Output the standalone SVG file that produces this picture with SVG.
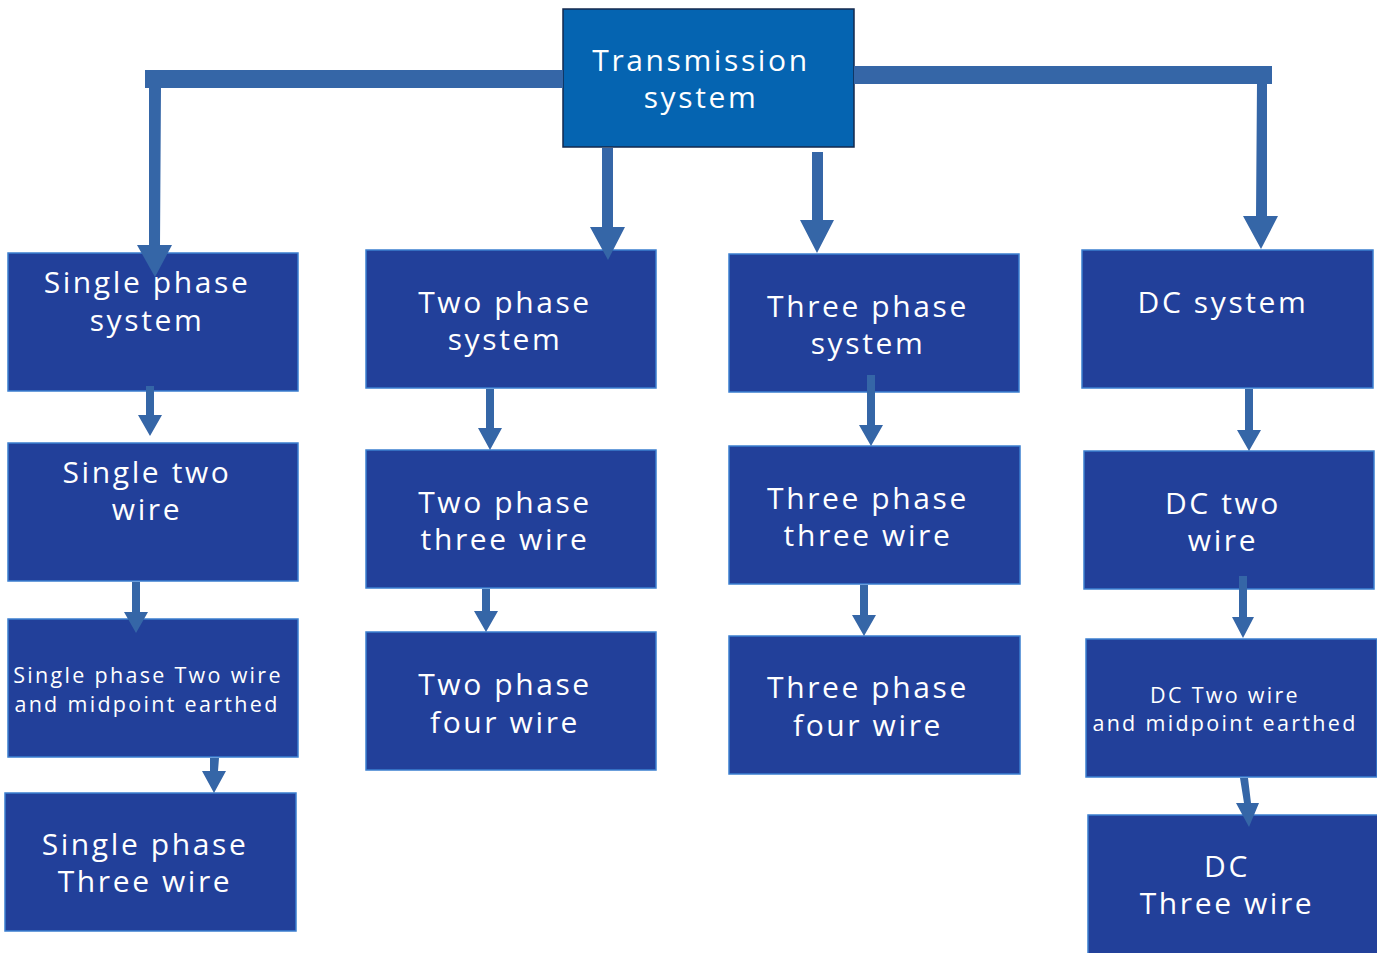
<svg xmlns="http://www.w3.org/2000/svg" width="1377" height="953" viewBox="0 0 1377 953">
<style>
.node rect{fill:#22409a;stroke:#3b7fd0;stroke-width:1.5}
#n0 rect{fill:#0564b1;stroke:#13294d;stroke-width:1.5}
.node text{fill:#ffffff;font-family:"Open Sans","Noto Sans","DejaVu Sans",sans-serif;font-size:30px;letter-spacing:2.6px;text-anchor:middle}
.node text.s{font-size:21.5px;letter-spacing:2.3px}
.conn{fill:#3566a7}
</style>
<rect width="1377" height="953" fill="#ffffff"/>
<g id="n0" class="node"><rect x="563" y="9" width="291" height="138"/><text x="701" y="71">Transmission</text><text x="701" y="108">system</text></g>
<g id="n1" class="node"><rect x="8" y="253" width="290" height="138"/><text x="147" y="293">Single phase</text><text x="147" y="331">system</text></g>
<g id="n2" class="node"><rect x="366" y="250" width="290" height="138"/><text x="505" y="313">Two phase</text><text x="505" y="350">system</text></g>
<g id="n3" class="node"><rect x="729" y="254" width="290" height="138"/><text x="868" y="317">Three phase</text><text x="868" y="354">system</text></g>
<g id="n4" class="node"><rect x="1082" y="250" width="291" height="138"/><text x="1223" y="313">DC system</text></g>
<g id="n5" class="node"><rect x="8" y="443" width="290" height="138"/><text x="147" y="483">Single two</text><text x="147" y="520">wire</text></g>
<g id="n6" class="node"><rect x="366" y="450" width="290" height="138"/><text x="505" y="513">Two phase</text><text x="505" y="550">three wire</text></g>
<g id="n7" class="node"><rect x="729" y="446" width="291" height="138"/><text x="868" y="509">Three phase</text><text x="868" y="546">three wire</text></g>
<g id="n8" class="node"><rect x="1084" y="451" width="290" height="138"/><text x="1223" y="514">DC two</text><text x="1223" y="551">wire</text></g>
<g id="n9" class="node"><rect x="8" y="619" width="290" height="138"/><text class="s" x="148" y="683">Single phase Two wire</text><text class="s" x="147" y="712">and midpoint earthed</text></g>
<g id="n10" class="node"><rect x="366" y="632" width="290" height="138"/><text x="505" y="695">Two phase</text><text x="505" y="733">four wire</text></g>
<g id="n11" class="node"><rect x="729" y="636" width="291" height="138"/><text x="868" y="698">Three phase</text><text x="868" y="736">four wire</text></g>
<g id="n12" class="node"><rect x="1086" y="639" width="291" height="138"/><text class="s" x="1225" y="703">DC Two wire</text><text class="s" x="1225" y="731">and midpoint earthed</text></g>
<g id="n13" class="node"><rect x="5" y="793" width="291" height="138"/><text x="145" y="855">Single phase</text><text x="145" y="892">Three wire</text></g>
<g id="n14" class="node"><rect x="1088" y="815" width="290" height="140"/><text x="1227" y="877">DC</text><text x="1227" y="914">Three wire</text></g>
<g id="connectors" class="conn">
<rect x="145" y="70" width="418" height="18"/>
<rect x="854" y="66" width="418" height="18"/>
<polygon points="149,86 161,86 160,245 172,245 155,277 137,245 149,245"/>
<polygon points="1257,82 1267,82 1267,216 1278,216 1261,249 1243,216 1256,216"/>
<polygon points="602,148 613,148 613,227 625,227 608,260 590,227 602,227"/>
<polygon points="812,152 823,152 823,220 834,220 817,253 800,220 812,220"/>
<polygon points="146,386 154,386 154,415 162,415 150,436 138,415 146,415"/>
<polygon points="132,582 140,582 140,612 148,612 136,633 124,612 132,612"/>
<polygon points="210,758 219,758 218,771 226,771 214,793 202,771 210,771"/>
<polygon points="486,389 494,389 494,428 502,428 490,450 478,428 486,428"/>
<polygon points="482,589 490,589 490,611 498,611 486,632 474,611 482,611"/>
<polygon points="867,375 875,375 875,425 883,425 871,446 859,425 867,425"/>
<polygon points="860,585 868,585 868,615 876,615 864,636 852,615 860,615"/>
<polygon points="1245,389 1253,389 1253,430 1261,430 1249,451 1237,430 1245,430"/>
<polygon points="1239,576 1247,576 1247,617 1254,617 1243,638 1232,617 1239,617"/>
<polygon points="1240,778 1248,778 1251,803 1259,803 1249,827 1236,803 1244,803"/>
</g>
</svg>
